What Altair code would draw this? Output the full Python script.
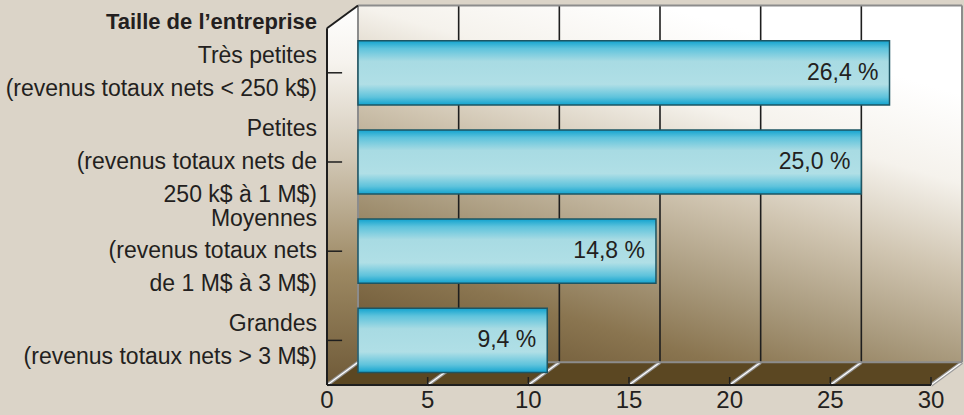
import altair as alt
import pandas as pd

# ---------------- data ----------------
categories = [
    "Très petites\n(revenus totaux nets < 250 k$)",
    "Petites\n(revenus totaux nets de\n250 k$ à 1 M$)",
    "Moyennes\n(revenus totaux nets\nde 1 M$ à 3 M$)",
    "Grandes\n(revenus totaux nets > 3 M$)",
]
values = [26.4, 25.0, 14.8, 9.4]
tick_values = [0, 5, 10, 15, 20, 25, 30]
axis_title = "Taille de l’entreprise"

# ---------------- layout constants ----------------
X_MAX = 30
DX = 1.54      # 3D depth, x units
DY = 0.254     # 3D depth, y units
WALL = 4.0     # wall height (category units)
Y_MAX = 4.316
BAR_HALF = 0.36
LINE = 0.366   # text line height in category units
W, H = 635, 385

FONT = "Liberation Sans"
TXT = "#231f20"
BG = "#dbd4c8"

xs = alt.Scale(domain=[0, X_MAX + DX], nice=False, zero=False)
ys = alt.Scale(domain=[0, Y_MAX], nice=False, zero=False)


def X(f):
    return alt.X(f, type="quantitative", scale=xs, axis=None)


def Y(f):
    return alt.Y(f, type="quantitative", scale=ys, axis=None)


n = len(values)
bars = pd.DataFrame({
    "cat": categories,
    "value": values,
    "pos": [n - i - 0.5 for i in range(n)],
})
bars["x0"] = DX
bars["x1"] = DX + bars["value"]
bars["y0"] = bars["pos"] - BAR_HALF
bars["y1"] = bars["pos"] + BAR_HALF
bars["label"] = [f"{v:.1f}".replace(".", ",") + " %" for v in values]

# category label lines, centred on each bar
rows = []
for c, p in zip(bars["cat"], bars["pos"]):
    lines = c.split("\n")
    m = len(lines)
    for k, ln in enumerate(lines):
        rows.append({"t": ln, "y": p + ((m - 1) / 2 - k) * LINE})
cat_lines = pd.DataFrame(rows)

# back wall
back = pd.DataFrame([{"x": DX, "x2": X_MAX + DX, "y": DY, "y2": WALL + DY}])
back_grad = {
    "gradient": "linear", "x1": 0, "y1": 1, "x2": 0.5, "y2": 0,
    "stops": [
        {"offset": 0, "color": "#634d2c"},
        {"offset": 0.24, "color": "#8a7550"},
        {"offset": 0.4, "color": "#a8997c"},
        {"offset": 0.6, "color": "#d0c5b1"},
        {"offset": 0.8, "color": "#f5f2ec"},
        {"offset": 1, "color": "#ffffff"},
    ],
}
back_layer = alt.Chart(back).mark_rect(fill=back_grad).encode(
    x=X("x"), x2="x2", y=Y("y"), y2="y2")

# left wall
left = pd.DataFrame([{"x": 0, "y": WALL, "y2": 0}, {"x": DX, "y": WALL + DY, "y2": DY}])
left_grad = {
    "gradient": "linear", "x1": 0, "y1": 1, "x2": 0, "y2": 0,
    "stops": [
        {"offset": 0, "color": "#6f5a38"},
        {"offset": 0.3, "color": "#9c8862"},
        {"offset": 0.6, "color": "#d2c8b6"},
        {"offset": 0.85, "color": "#f6f3ee"},
        {"offset": 1, "color": "#ffffff"},
    ],
}
left_layer = alt.Chart(left).mark_area(fill=left_grad).encode(
    x=X("x"), y=Y("y"), y2="y2")

# floor
floor = pd.DataFrame([{"y": 0, "x": 0, "x2": X_MAX}, {"y": DY, "x": DX, "x2": X_MAX + DX}])
floor_layer = alt.Chart(floor).mark_area(orient="horizontal", fill="#5b4722").encode(
    y=Y("y"), x=X("x"), x2="x2")

# gridlines on back wall
grid = pd.DataFrame({"x": [DX + v for v in tick_values[1:-1]]})
grid["y"] = DY
grid["y2"] = WALL + DY
grid_layer = alt.Chart(grid).mark_rule(color="#1e1e1e", strokeWidth=1.6).encode(
    x=X("x"), y=Y("y"), y2="y2")

# floor diagonals
diag = pd.DataFrame({"x": tick_values})
diag["x2"] = diag["x"] + DX
diag["y"] = 0
diag["y2"] = DY
diag_outer = alt.Chart(diag).mark_rule(color="#9a9a9a", strokeWidth=3.5).encode(
    x=X("x"), x2="x2", y=Y("y"), y2="y2")
diag_inner = alt.Chart(diag).mark_rule(color="#ffffff", strokeWidth=1.2).encode(
    x=X("x"), x2="x2", y=Y("y"), y2="y2")

# gray edges
gray_edges = pd.DataFrame([
    {"x": DX, "x2": DX, "y": DY, "y2": WALL + DY},
    {"x": DX, "x2": X_MAX + DX, "y": WALL + DY, "y2": WALL + DY},
    {"x": X_MAX + DX, "x2": X_MAX + DX, "y": DY, "y2": WALL + DY},
    {"x": DX, "x2": X_MAX + DX, "y": DY, "y2": DY},
])
gray_layer = alt.Chart(gray_edges).mark_rule(color="#8c8c8c", strokeWidth=2).encode(
    x=X("x"), x2="x2", y=Y("y"), y2="y2")

# dark edges
dark_edges = pd.DataFrame([
    {"x": 0, "x2": X_MAX, "y": 0, "y2": 0},
    {"x": 0, "x2": 0, "y": 0, "y2": WALL},
    {"x": 0, "x2": DX, "y": WALL, "y2": WALL + DY},
])
dark_layer = alt.Chart(dark_edges).mark_rule(color="#1e1e1e", strokeWidth=2).encode(
    x=X("x"), x2="x2", y=Y("y"), y2="y2")

# front ticks
fticks = pd.DataFrame({"x": tick_values})
fticks["y"] = 0
fticks["y2"] = 0.09
fticks_layer = alt.Chart(fticks).mark_rule(color="#1e1e1e", strokeWidth=1.5).encode(
    x=X("x"), y=Y("y"), y2="y2")

# y ticks
yticks = bars[["pos"]].copy()
yticks["x"] = 0
yticks["x2"] = 0.75
yticks_layer = alt.Chart(yticks).mark_rule(color="#1e1e1e", strokeWidth=1.5).encode(
    x=X("x"), x2="x2", y=Y("pos"))

# bars
bar_grad = {
    "gradient": "linear", "x1": 0, "y1": 0, "x2": 0, "y2": 1,
    "stops": [
        {"offset": 0, "color": "#12a3cf"},
        {"offset": 0.12, "color": "#5ec3dc"},
        {"offset": 0.32, "color": "#a8dbe3"},
        {"offset": 0.68, "color": "#b0dfe6"},
        {"offset": 0.88, "color": "#5ec3dc"},
        {"offset": 1, "color": "#12a3cf"},
    ],
}
bar_layer = alt.Chart(bars).mark_rect(fill=bar_grad, stroke="#1d5563", strokeWidth=1.5).encode(
    x=X("x0"), x2="x1", y=Y("y0"), y2="y1")

bar_text = alt.Chart(bars).mark_text(
    align="right", baseline="middle", dx=-11, fontSize=23, font=FONT, color=TXT
).encode(x=X("x1"), y=Y("pos"), text="label:N")

# category labels
cat_text = alt.Chart(cat_lines).mark_text(
    align="right", baseline="middle", fontSize=23, font=FONT, color=TXT
).encode(x=alt.value(-10), y=Y("y"), text="t:N")

title_df = pd.DataFrame([{"y": WALL, "t": axis_title}])
title_text = alt.Chart(title_df).mark_text(
    align="right", baseline="alphabetic", dy=1, fontSize=22, fontWeight="bold", font=FONT, color=TXT
).encode(x=alt.value(-10), y=Y("y"), text="t:N")

# tick labels
tl = pd.DataFrame({"x": tick_values})
tl["y"] = 0
tl["t"] = [str(v) for v in tick_values]
tick_text = alt.Chart(tl).mark_text(
    align="center", baseline="middle", dy=16, fontSize=24, font=FONT, color=TXT
).encode(x=X("x"), y=Y("y"), text="t:N")

chart = alt.layer(
    back_layer, left_layer, floor_layer, grid_layer,
    diag_outer, diag_inner, gray_layer, dark_layer, fticks_layer, yticks_layer,
    bar_layer, bar_text, cat_text, title_text, tick_text,
).properties(
    width=W, height=H,
    padding={"left": 327, "top": 0, "right": 2, "bottom": 30},
    autosize=alt.AutoSizeParams(type="none"),
).configure(background=BG).configure_view(stroke=None)

chart.save("out.html", embed_options={"renderer": "svg", "actions": False})
